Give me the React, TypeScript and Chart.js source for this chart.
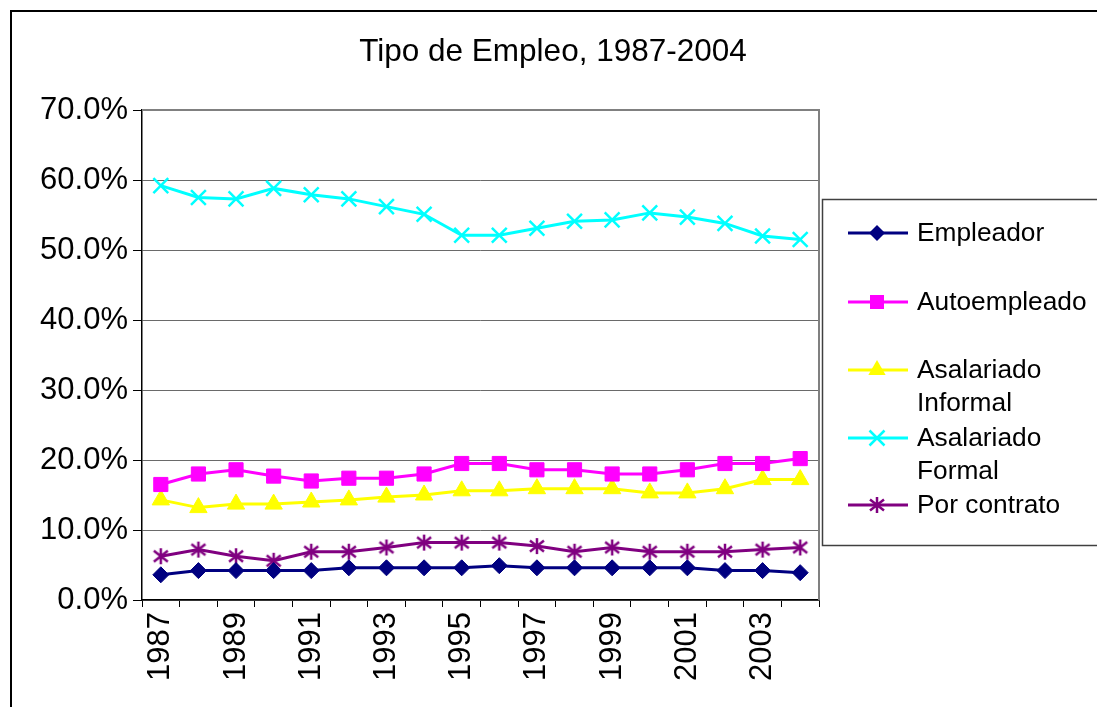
import React, { useEffect, useRef } from "react";
import { Chart, registerables } from "chart.js";

Chart.register(...registerables);

const years = ["1987","1988","1989","1990","1991","1992","1993","1994","1995","1996","1997","1998","1999","2000","2001","2002","2003","2004"];
const empleador = [3.6,4.2,4.2,4.2,4.2,4.6,4.6,4.6,4.6,4.9,4.6,4.6,4.6,4.6,4.6,4.2,4.2,3.9];
const autoempleado = [16.5,18.0,18.6,17.7,17.0,17.4,17.4,18.0,19.5,19.5,18.6,18.6,18.0,18.0,18.6,19.5,19.5,20.2];
const asalariadoInformal = [14.3,13.2,13.7,13.7,14.0,14.3,14.7,15.0,15.6,15.6,15.9,15.9,15.9,15.3,15.3,15.9,17.2,17.2];
const asalariadoFormal = [59.2,57.5,57.3,58.8,57.9,57.3,56.2,55.1,52.1,52.1,53.1,54.1,54.3,55.3,54.7,53.8,52.0,51.5];
const porContrato = [6.25,7.2,6.25,5.6,6.9,6.9,7.5,8.2,8.2,8.2,7.7,6.9,7.5,6.9,6.9,6.9,7.2,7.5];

const seriesNames = ["Empleador", "Autoempleado", "Asalariado Informal", "Asalariado Formal", "Por contrato"];
const legendLines = [["Empleador"], ["Autoempleado"], ["Asalariado", "Informal"], ["Asalariado", "Formal"], ["Por contrato"]];
const titleText = "Tipo de Empleo, 1987-2004";

const FONT = "'Liberation Sans', Arial, sans-serif";
const colors = ["#000080", "#FF00FF", "#FFFF00", "#00FFFF", "#800080"];

function makeAsterisk(color: string): HTMLCanvasElement {
  const c = document.createElement("canvas");
  c.width = 20;
  c.height = 20;
  const g = c.getContext("2d")!;
  g.strokeStyle = color;
  g.lineWidth = 2.5;
  g.beginPath();
  g.moveTo(10, 2); g.lineTo(10, 18);
  g.moveTo(3, 4.5); g.lineTo(17, 15.5);
  g.moveTo(3, 15.5); g.lineTo(17, 4.5);
  g.stroke();
  return c;
}

function drawMarker(ctx: CanvasRenderingContext2D, idx: number, x: number, y: number, star: HTMLCanvasElement) {
  const col = colors[idx];
  ctx.save();
  ctx.fillStyle = col;
  ctx.strokeStyle = col;
  ctx.beginPath();
  if (idx === 0) {
    const r = 8;
    ctx.moveTo(x, y - r); ctx.lineTo(x + r, y); ctx.lineTo(x, y + r); ctx.lineTo(x - r, y); ctx.closePath();
    ctx.fill();
  } else if (idx === 1) {
    ctx.rect(x - 7, y - 7, 14, 14);
    ctx.fill();
  } else if (idx === 2) {
    const r = 10;
    ctx.moveTo(x, y - r);
    ctx.lineTo(x + r * 0.866, y + r * 0.5);
    ctx.lineTo(x - r * 0.866, y + r * 0.5);
    ctx.closePath();
    ctx.fill();
  } else if (idx === 3) {
    ctx.lineWidth = 2.5;
    const d = 7.5;
    ctx.moveTo(x - d, y - d); ctx.lineTo(x + d, y + d);
    ctx.moveTo(x - d, y + d); ctx.lineTo(x + d, y - d);
    ctx.stroke();
  } else {
    ctx.drawImage(star, x - 10, y - 10);
  }
  ctx.restore();
}

export default function App() {
  const ref = useRef<HTMLCanvasElement | null>(null);

  useEffect(() => {
    if (!ref.current) return;
    const star = makeAsterisk(colors[4]);

    const decor = {
      id: "decor",
      beforeDraw(chart: any) {
        const ctx = chart.ctx as CanvasRenderingContext2D;
        ctx.save();
        ctx.fillStyle = "#ffffff";
        ctx.fillRect(0, 0, chart.width, chart.height);
        ctx.restore();
      },
      afterDraw(chart: any) {
        const ctx = chart.ctx as CanvasRenderingContext2D;
        const a = chart.chartArea;
        ctx.save();
        ctx.strokeStyle = "#000000";
        ctx.lineWidth = 2;
        ctx.beginPath();
        ctx.moveTo(11, chart.height + 2);
        ctx.lineTo(11, 11);
        ctx.lineTo(chart.width + 2, 11);
        ctx.stroke();
        ctx.strokeStyle = "#808080";
        ctx.lineWidth = 2;
        ctx.beginPath();
        ctx.moveTo(a.left, a.top);
        ctx.lineTo(a.right, a.top);
        ctx.lineTo(a.right, a.bottom);
        ctx.stroke();
        ctx.fillStyle = "#000000";
        ctx.font = `31.5px ${FONT}`;
        ctx.textAlign = "center";
        ctx.textBaseline = "alphabetic";
        ctx.fillText(titleText, 553, 61);
        ctx.strokeStyle = "#404040";
        ctx.lineWidth = 1.5;
        ctx.strokeRect(822.5, 199.5, 400, 346);
        const ys = [233, 302, 370, 438, 505];
        ctx.font = `26.3px ${FONT}`;
        ctx.textAlign = "left";
        ctx.textBaseline = "middle";
        legendLines.forEach((lines, i) => {
          const y = ys[i];
          ctx.strokeStyle = colors[i];
          ctx.lineWidth = 3;
          ctx.beginPath();
          ctx.moveTo(848, y);
          ctx.lineTo(908, y);
          ctx.stroke();
          drawMarker(ctx, i, 877, y, star);
          ctx.fillStyle = "#000000";
          lines.forEach((t, j) => ctx.fillText(t, 917, y + 1 + j * 33));
        });
        ctx.restore();
      },
    };

    const mk = (label: string, data: number[], i: number, style: any, radius: number, bw: number) => ({
      label,
      data,
      borderColor: colors[i],
      backgroundColor: colors[i],
      borderWidth: 3,
      pointStyle: style,
      pointRadius: radius,
      pointHoverRadius: radius,
      pointBorderWidth: bw,
      pointBackgroundColor: colors[i],
      pointBorderColor: colors[i],
      tension: 0,
    });

    const chart = new Chart(ref.current, {
      type: "line",
      data: {
        labels: years,
        datasets: [
          mk(seriesNames[0], empleador, 0, "rectRot", 8, 1),
          mk(seriesNames[1], autoempleado, 1, "rect", 10, 1),
          mk(seriesNames[2], asalariadoInformal, 2, "triangle", 10, 1),
          mk(seriesNames[3], asalariadoFormal, 3, "crossRot", 10.5, 2.5),
          mk(seriesNames[4], porContrato, 4, star, 10, 1),
        ],
      },
      options: {
        animation: false,
        responsive: false,
        maintainAspectRatio: false,
        events: [],
        layout: { padding: { top: 110, right: 278, bottom: 0, left: 0 } },
        plugins: {
          legend: { display: false },
          title: { display: false },
          tooltip: { enabled: false },
        },
        scales: {
          x: {
            type: "category",
            offset: true,
            grid: { offset: true, drawOnChartArea: false, tickLength: 7, color: "#000000", lineWidth: 1 },
            border: { color: "#000000", width: 1.5 },
            ticks: {
              autoSkip: false,
              maxRotation: 90,
              minRotation: 90,
              padding: 5,
              color: "#000000",
              font: { family: FONT, size: 31 },
              callback: (_v: any, i: number) => (i % 2 === 0 ? years[i] : ""),
            },
            afterFit: (s: any) => { s.height = 107; },
          },
          y: {
            min: 0,
            max: 70,
            grid: { color: "#6a6a6a", lineWidth: 1, tickLength: 9, tickColor: "#000000" },
            border: { color: "#000000", width: 1.5 },
            ticks: {
              stepSize: 10,
              padding: 5,
              color: "#000000",
              font: { family: FONT, size: 31 },
              callback: (v: any) => Number(v).toFixed(1) + "%",
            },
            afterFit: (s: any) => { s.width = 142; },
          },
        },
      },
      plugins: [decor],
    } as any);

    return () => chart.destroy();
  }, []);

  return (
    <div style={{ position: "fixed", left: 0, top: 0, width: 1097, height: 707, background: "#fff" }}>
      <canvas ref={ref} width={1097} height={707} style={{ width: 1097, height: 707, display: "block" }} />
    </div>
  );
}
